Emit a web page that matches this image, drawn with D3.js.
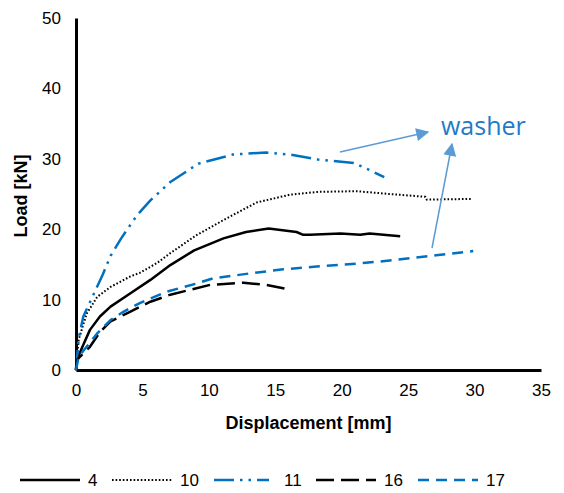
<!DOCTYPE html>
<html>
<head>
<meta charset="utf-8">
<script src="https://cdn.jsdelivr.net/npm/d3@7"></script>
<style>
  body { margin: 0; background: #fff; }
  svg { display: block; font-family: "Liberation Sans", Arial, sans-serif; }
</style>
</head>
<body>
<svg id="chart" width="564" height="493"></svg>
<script>
// displacement [mm] / load [kN]
const disp4 = [0, 0.05, 0.55, 1.05, 1.8, 2.6, 4.1, 5.6, 7.1, 8.9, 11.1, 12.8, 14.5, 15.4, 16.6, 17.1, 17.6, 19.9, 21.4, 22.1, 24.4];
const load4 = [0, 1.4, 3.6, 5.7, 7.6, 9.0, 10.9, 12.8, 14.9, 17.0, 18.7, 19.6, 20.1, 19.9, 19.6, 19.2, 19.2, 19.4, 19.2, 19.4, 19.0];

const disp10 = [0, 0.2, 0.8, 1.6, 2.6, 4.1, 4.8, 6.1, 7.1, 9.1, 11.1, 13.6, 16.1, 18.2, 21.1, 23.6, 26.3, 26.4, 29.8];
const load10 = [0, 4.3, 8.0, 10.4, 11.8, 13.3, 13.8, 15.2, 16.6, 19.2, 21.3, 23.8, 24.9, 25.3, 25.4, 25.0, 24.6, 24.2, 24.3];

const disp11 = [0, 0.2, 0.55, 2.0, 2.6, 3.4, 4.6, 5.6, 7.1, 9.2, 11.8, 14.3, 16.1, 18.2, 20.9, 22.1, 23.2];
const load11 = [0, 4.5, 7.6, 13.5, 16.2, 18.7, 22.0, 24.1, 26.7, 29.3, 30.6, 30.9, 30.6, 29.9, 29.4, 28.4, 27.4];

const disp16 = [0, 0.05, 1.05, 1.8, 2.6, 4.1, 5.6, 7.1, 8.6, 10.1, 12.6, 14.3, 15.9];
const load16 = [0, 1.4, 3.3, 5.4, 6.9, 8.3, 9.7, 10.7, 11.4, 12.1, 12.4, 12.1, 11.5];

const disp17 = [0, 0.2, 0.8, 1.6, 2.6, 3.6, 4.8, 6.8, 9.1, 10.3, 13.0, 15.6, 18.1, 21.1, 23.9, 27.1, 29.9];
const load17 = [0, 1.9, 3.3, 5.2, 7.1, 8.3, 9.5, 11.1, 12.3, 13.0, 13.7, 14.3, 14.7, 15.1, 15.6, 16.3, 16.9];

const seriesNames = ["4", "10", "11", "16", "17"];
const xTicks = [0, 5, 10, 15, 20, 25, 30, 35];
const yTicks = [0, 10, 20, 30, 40, 50];

const blue = "#0070c0";
const styles = {
  "4":  { color: "#000", width: 2.5, dash: null },
  "10": { color: "#000", width: 2, dash: "1.6,2" },
  "11": { color: blue, width: 2.5, dash: "20,6,2.5,6,2.5,6" },
  "16": { color: "#000", width: 2.5, dash: "18,7" },
  "17": { color: blue, width: 2.5, dash: "11,7" }
};

const series = [
  { name: "4", d: disp4, l: load4 },
  { name: "10", d: disp10, l: load10 },
  { name: "11", d: disp11, l: load11 },
  { name: "16", d: disp16, l: load16 },
  { name: "17", d: disp17, l: load17 }
];

const svg = d3.select("#chart");
const margin = { left: 76, right: 23, top: 18, bottom: 123 };
const W = 564, H = 493;

const x = d3.scaleLinear().domain([0, 35]).range([margin.left, W - margin.right]);
const y = d3.scaleLinear().domain([0, 50]).range([H - margin.bottom, margin.top]);

// axes (no tick marks, just labels)
const xAxis = svg.append("g")
  .attr("transform", `translate(0,${y(0)})`)
  .call(d3.axisBottom(x).tickValues(xTicks).tickSize(0).tickPadding(14));
xAxis.select(".domain").attr("stroke", "#000").attr("stroke-width", 3);
xAxis.selectAll("text").attr("font-size", 17).attr("fill", "#000")
  .attr("font-family", "Liberation Sans, Arial, sans-serif");

const yAxis = svg.append("g")
  .attr("transform", `translate(${x(0)},0)`)
  .call(d3.axisLeft(y).tickValues(yTicks).tickSize(0).tickPadding(15));
yAxis.select(".domain").attr("stroke", "#000").attr("stroke-width", 3);
yAxis.selectAll("text").attr("font-size", 17).attr("fill", "#000")
  .attr("font-family", "Liberation Sans, Arial, sans-serif");

// axis titles
svg.append("text")
  .attr("x", (x(0) + x(35)) / 2).attr("y", 429)
  .attr("text-anchor", "middle")
  .attr("font-size", 18).attr("font-weight", "bold")
  .text("Displacement [mm]");

svg.append("text")
  .attr("transform", `translate(27,${(y(0) + y(50)) / 2 + 2}) rotate(-90)`)
  .attr("text-anchor", "middle")
  .attr("font-size", 18).attr("font-weight", "bold")
  .text("Load [kN]");

// curves
const line = d3.line().x(p => x(p[0])).y(p => y(p[1]));

svg.append("g").selectAll("path")
  .data(series)
  .join("path")
  .attr("d", s => line(s.d.map((v, i) => [v, s.l[i]])))
  .attr("fill", "none")
  .attr("stroke", s => styles[s.name].color)
  .attr("stroke-width", s => styles[s.name].width)
  .attr("stroke-dasharray", s => styles[s.name].dash)
  .attr("stroke-linejoin", "round");

// annotation
const arrowBlue = "#5b9bd5";
svg.append("defs").append("marker")
  .attr("id", "head")
  .attr("viewBox", "0 0 10 10")
  .attr("refX", 9).attr("refY", 5)
  .attr("markerWidth", 15).attr("markerHeight", 13)
  .attr("markerUnits", "userSpaceOnUse")
  .attr("orient", "auto")
  .append("path").attr("d", "M0,0 L10,5 L0,10 Z").attr("fill", arrowBlue);

const arrows = [
  [340, 152, 428, 132],
  [432, 248, 452, 144]
];
svg.append("g").selectAll("line")
  .data(arrows)
  .join("line")
  .attr("x1", a => a[0]).attr("y1", a => a[1])
  .attr("x2", a => a[2]).attr("y2", a => a[3])
  .attr("stroke", arrowBlue).attr("stroke-width", 1.5)
  .attr("marker-end", "url(#head)");

svg.append("text")
  .attr("x", 441).attr("y", 135)
  .attr("font-family", "Open Sans, Noto Sans, sans-serif")
  .attr("font-size", 25)
  .attr("fill", "#1f7bc7")
  .text("washer");

// legend
const legendX = [20, 112, 214, 316, 418];
const legendY = 480;
const lg = svg.append("g").selectAll("g")
  .data(seriesNames)
  .join("g")
  .attr("transform", (d, i) => `translate(${legendX[i]},${legendY})`);
lg.append("line")
  .attr("x1", 0).attr("x2", d => d === "11" ? 55 : 60)
  .attr("stroke", d => styles[d].color)
  .attr("stroke-width", d => styles[d].width)
  .attr("stroke-dasharray", d => styles[d].dash);
lg.append("text")
  .attr("x", d => d === "11" ? 70 : 68).attr("y", 6)
  .attr("font-size", 17)
  .text(d => d);
</script>
</body>
</html>
